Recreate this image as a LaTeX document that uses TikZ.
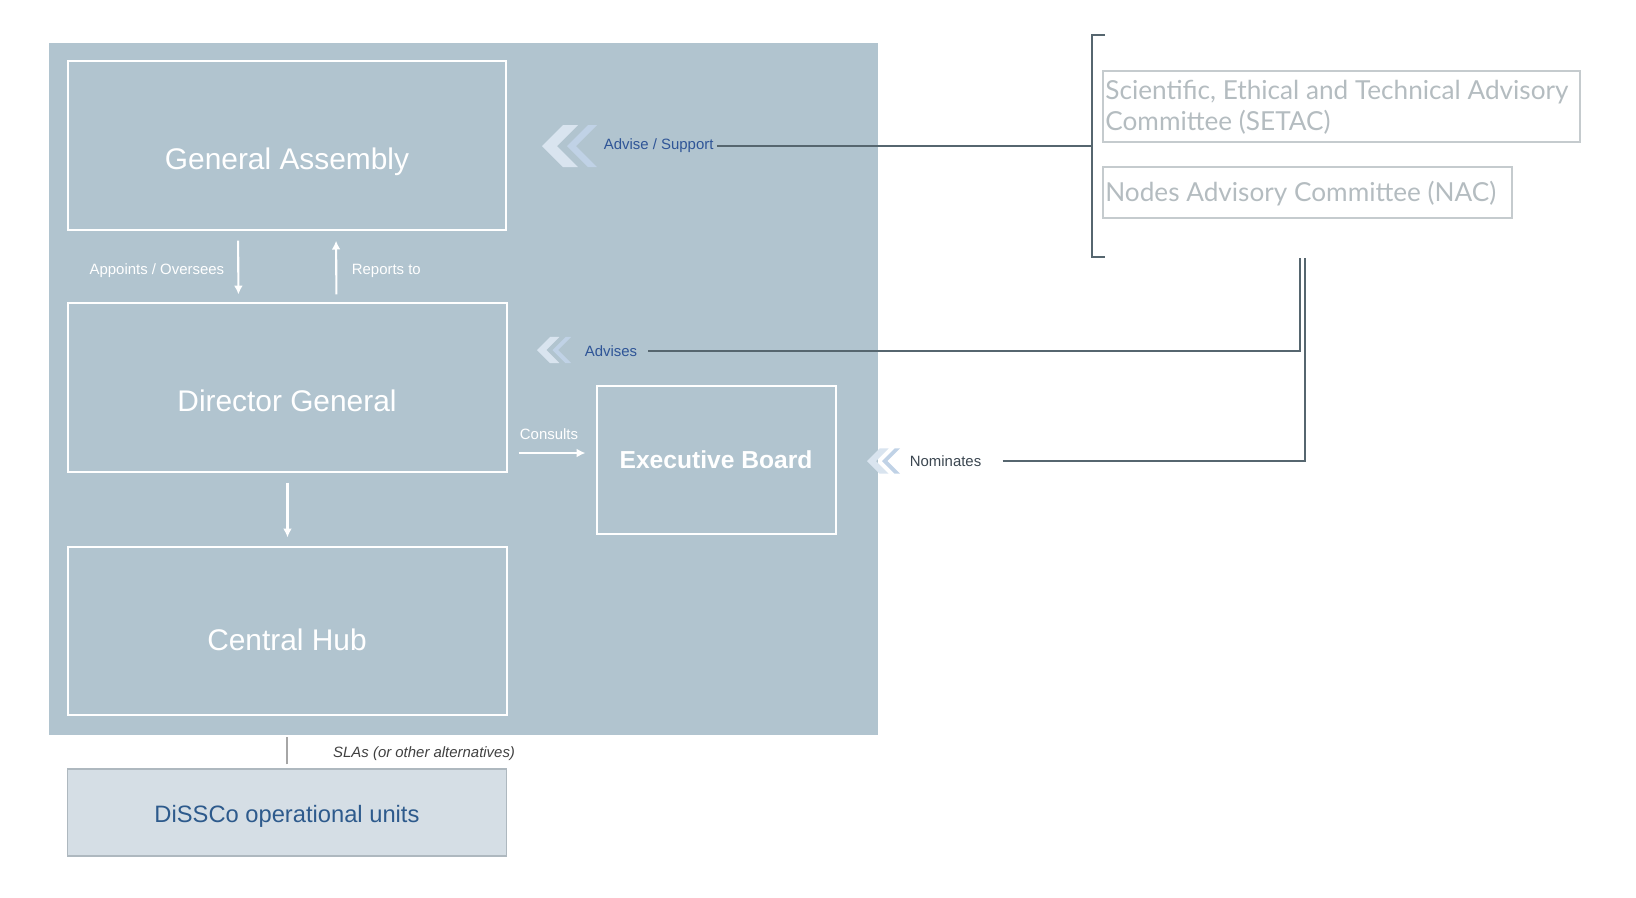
\documentclass[tikz,border=0pt]{standalone}
\usepackage{fontspec}
\setmainfont{Liberation Sans}
\newfontfamily\lato{Lato}
\usetikzlibrary{arrows.meta}
\definecolor{panelblue}{HTML}{B1C4CF}
\definecolor{advblue}{HTML}{2F5597}
\definecolor{nomgray}{HTML}{3B4650}
\definecolor{linkgray}{HTML}{56666F}
\definecolor{comgray}{HTML}{C5CBCE}
\definecolor{comtext}{HTML}{B4BCC0}
\definecolor{unitfill}{HTML}{D5DEE5}
\definecolor{unitedge}{HTML}{AEB8BF}
\definecolor{unitblue}{HTML}{2D5A8C}
\definecolor{chevlight}{HTML}{D9E4EF}
\definecolor{chevdark}{HTML}{C0D2E6}

\begin{document}
\begin{tikzpicture}[x=.02cm, y=-.02cm,
	unit/.style={draw=white, line width=.8pt, inner sep=0pt},
	unittext/.style={text=white, font=\fontsize{17}{20}\selectfont},
	flow/.style={draw=white, line width=1.2pt, -{Latex[length=5pt,width=5pt]}},
	flowlbl/.style={text=white, font=\fontsize{8.5}{10}\selectfont, inner sep=2pt},
	advlbl/.style={text=advblue, font=\fontsize{8.5}{10}\selectfont, inner sep=2pt},
	link/.style={draw=linkgray, line width=1.1pt},
	committee/.style={draw=comgray, line width=.7pt, inner sep=0pt},
	comtxt/.style={text=comtext, inner sep=0pt, anchor=west, align=left,
		font=\lato\fontsize{14.9}{17.6}\selectfont}]
				\useasboundingbox (0,0) rectangle (1636,897);
				\node[fill=panelblue, inner sep=0pt, minimum width=16.58cm, minimum height=13.84cm] (panel) at (463.5,389) {};
				% units inside the panel
				\node[unit, minimum width=8.76cm, minimum height=3.38cm] (ga) at (287,145.5) {};
				\node[unit, minimum width=8.78cm, minimum height=3.38cm] (dg) at (287.5,387.5) {};
				\node[unit, minimum width=8.78cm, minimum height=3.36cm] (ch) at (287.5,631) {};
				\node[unit, minimum width=4.78cm, minimum height=2.96cm] (eb) at (716.5,460) {};
				\node[unittext] (gatext) at (287,162) {General Assembly};
				\node[unittext] (dgtext) at (287,401) {Director General};
				\node[unittext] (chtext) at (287,640) {Central Hub};
				\node[unittext, font=\fontsize{14}{17}\selectfont\bfseries] (ebtext) at (716,460) {Executive Board};
				\draw[flow, shorten <=5.7pt, shorten >=4.5pt] ([xshift=-.98cm]ga.south) -- ([xshift=-.98cm]dg.north);
				\draw[flow, shorten <=4.5pt, shorten >=5.7pt] ([xshift=.98cm]dg.north) -- ([xshift=.98cm]ga.south);
				\draw[flow, shorten <=5.7pt, shorten >=5.1pt] (dg.south) -- (ch.north);
				\draw[flow, shorten <=6.2pt, shorten >=6.2pt] ([yshift=.14cm]eb.west -| dg.east) -- ([yshift=.14cm]eb.west);
				\node[flowlbl, anchor=east] (appoints) at (228,271) {Appoints / Oversees};
				\node[flowlbl, anchor=west] (reports) at (348,271) {Reports to};
				\node[flowlbl] (consults) at (549,434) {Consults};
				% operational units below
				\node[draw=unitedge, fill=unitfill, line width=.6pt, minimum width=8.8cm, minimum height=1.74cm] (dissco) at (287,812.5) {};
				\node[text=unitblue, font=\fontsize{13.5}{16}\selectfont] (disscotext) at (287,816) {DiSSCo operational units};
				\draw[draw=black!35, line width=.9pt, shorten <=2.3pt, shorten >=1.1pt] (dissco.north) -- (dissco.north |- panel.south);
				\node[text=black!75, font=\fontsize{8.5}{10}\selectfont\itshape, anchor=west] (sla) at (327,754) {SLAs (or other alternatives)};
				% advisory bodies
				\node[committee, minimum width=9.54cm, minimum height=1.42cm] (setac) at (1341.5,106.5) {};
				\node[committee, minimum width=8.18cm, minimum height=1.02cm] (nac) at (1307.5,192.5) {};
				\node[comtxt] (setactext) at (1105,107) {Scientific, Ethical and Technical Advisory\\Committee (SETAC)};
				\node[comtxt] (nactext) at (1105,194) {Nodes Advisory Committee (NAC)};
				\coordinate (brtop) at (1092,35);
				\coordinate (brbot) at (1092,257);
				\coordinate (advjoin) at (1300,258);
				\coordinate (nomjoin) at (1305,258);
				\draw[link] ([xshift=.26cm]brtop) -- (brtop) -- (brbot) -- ([xshift=.26cm]brbot);
				\foreach \cx/\cy/\s in {542/146/1, 537/350/.62, 867/461/.6} {
					\begin{scope}[shift={(\cx,\cy)}, scale=\s]
						\fill[chevlight] (0,0) -- (21,-21) -- (36,-21) -- (15,0) -- (36,21) -- (21,21) -- cycle;
						\fill[chevdark] (25,0) -- (46,-21) -- (55,-21) -- (34,0) -- (55,21) -- (46,21) -- cycle;
					\end{scope}
				}
				\node[advlbl, anchor=west] (support) at (600,146) {Advise / Support};
				\node[advlbl, anchor=west] (advises) at (581,351) {Advises};
				\node[advlbl, text=nomgray, anchor=west] (nominates) at (906,461) {Nominates};
				\draw[link] (support.east) -- (support.east -| brtop);
				\draw[link, shorten <=4pt] (advises.east) -| (advjoin);
				\draw[link, shorten <=10pt] (nominates.east) -| (nomjoin);
			\end{tikzpicture}
\end{document}
